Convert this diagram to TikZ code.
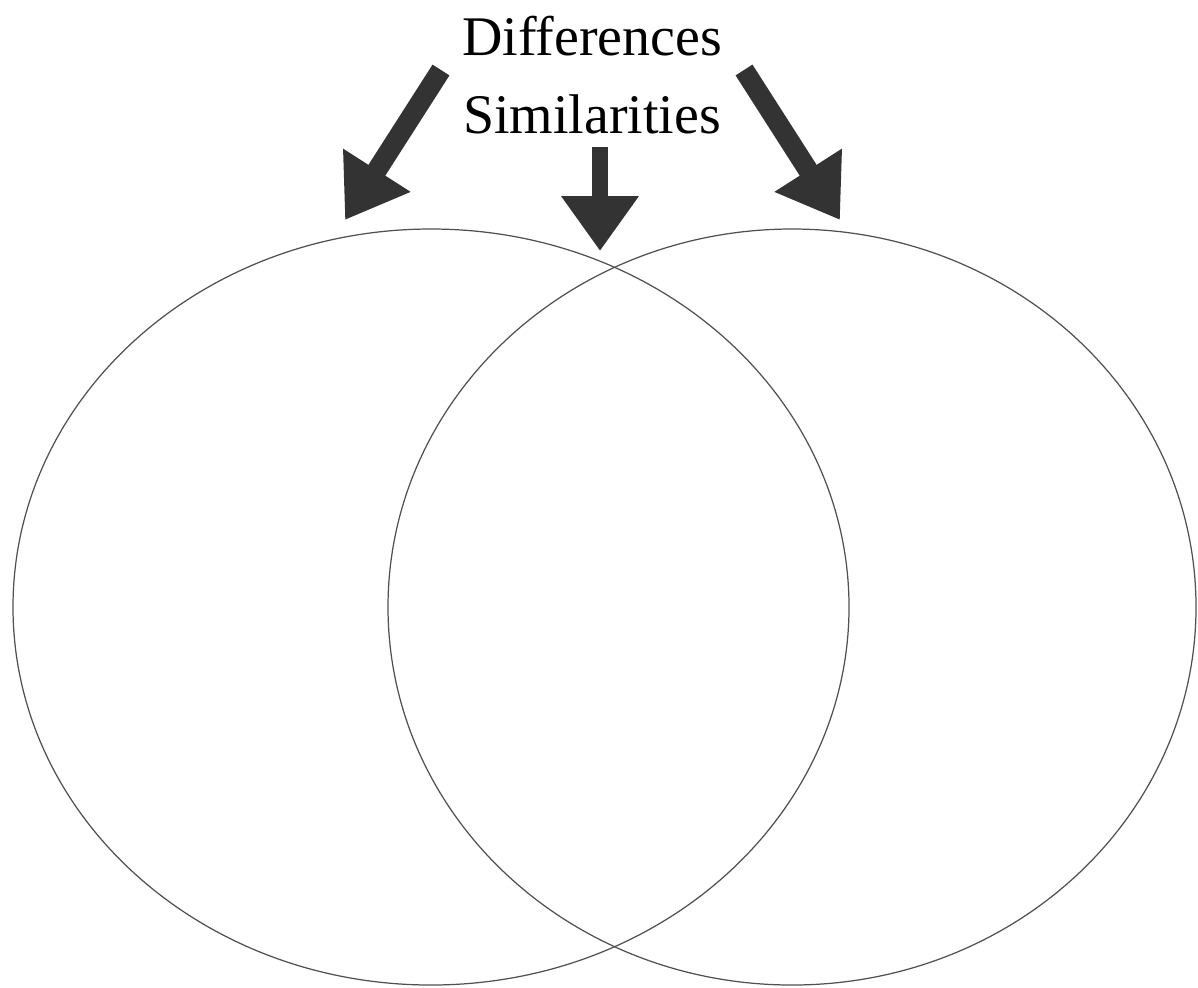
\documentclass[tikz,border=0pt]{standalone}
\usepackage{fontspec}
\setmainfont{Liberation Serif}
\usetikzlibrary{arrows.meta}
\definecolor{arrowgray}{HTML}{333333}
\definecolor{ringgray}{HTML}{505050}

\begin{document}
\begin{tikzpicture}[x=0.01cm, y=-0.01cm,
	label/.style={anchor=base, inner sep=0pt, font=\fontsize{15.9}{19}\selectfont},
	ring/.style={draw=ringgray, line width=0.35pt},
	bigarrow/.style={draw=arrowgray, line width=5.7pt, -{Triangle[length=16.8pt, width=21.6pt]}},
	midarrow/.style={draw=arrowgray, line width=4.8pt, -{Triangle[length=15.6pt, width=21pt]}}]
			%%%%% START %%%%%
			\useasboundingbox (0, 0) rectangle (1198, 987);
			
			\node[label] (diff) at (592, 55) {Differences};
			\node[label] (sim) at (592, 133) {Similarities};
			
			\draw[ring] (431, 607) ellipse [x radius=418, y radius=378];
			\draw[ring] (792, 607) ellipse [x radius=404, y radius=378];
			
			\coordinate (lstart) at (441, 70);
			\coordinate (ltip) at (345, 220);
			\coordinate (rstart) at (744, 70);
			\coordinate (rtip) at (840, 220);
			\coordinate (mstart) at (600, 147);
			\coordinate (mtip) at (600, 251);
			
			\draw[bigarrow] (lstart) -- (ltip);
			\draw[bigarrow] (rstart) -- (rtip);
			\draw[midarrow] (mstart) -- (mtip);
			
			%%%%% END %%%%%
\end{tikzpicture}
\end{document}
